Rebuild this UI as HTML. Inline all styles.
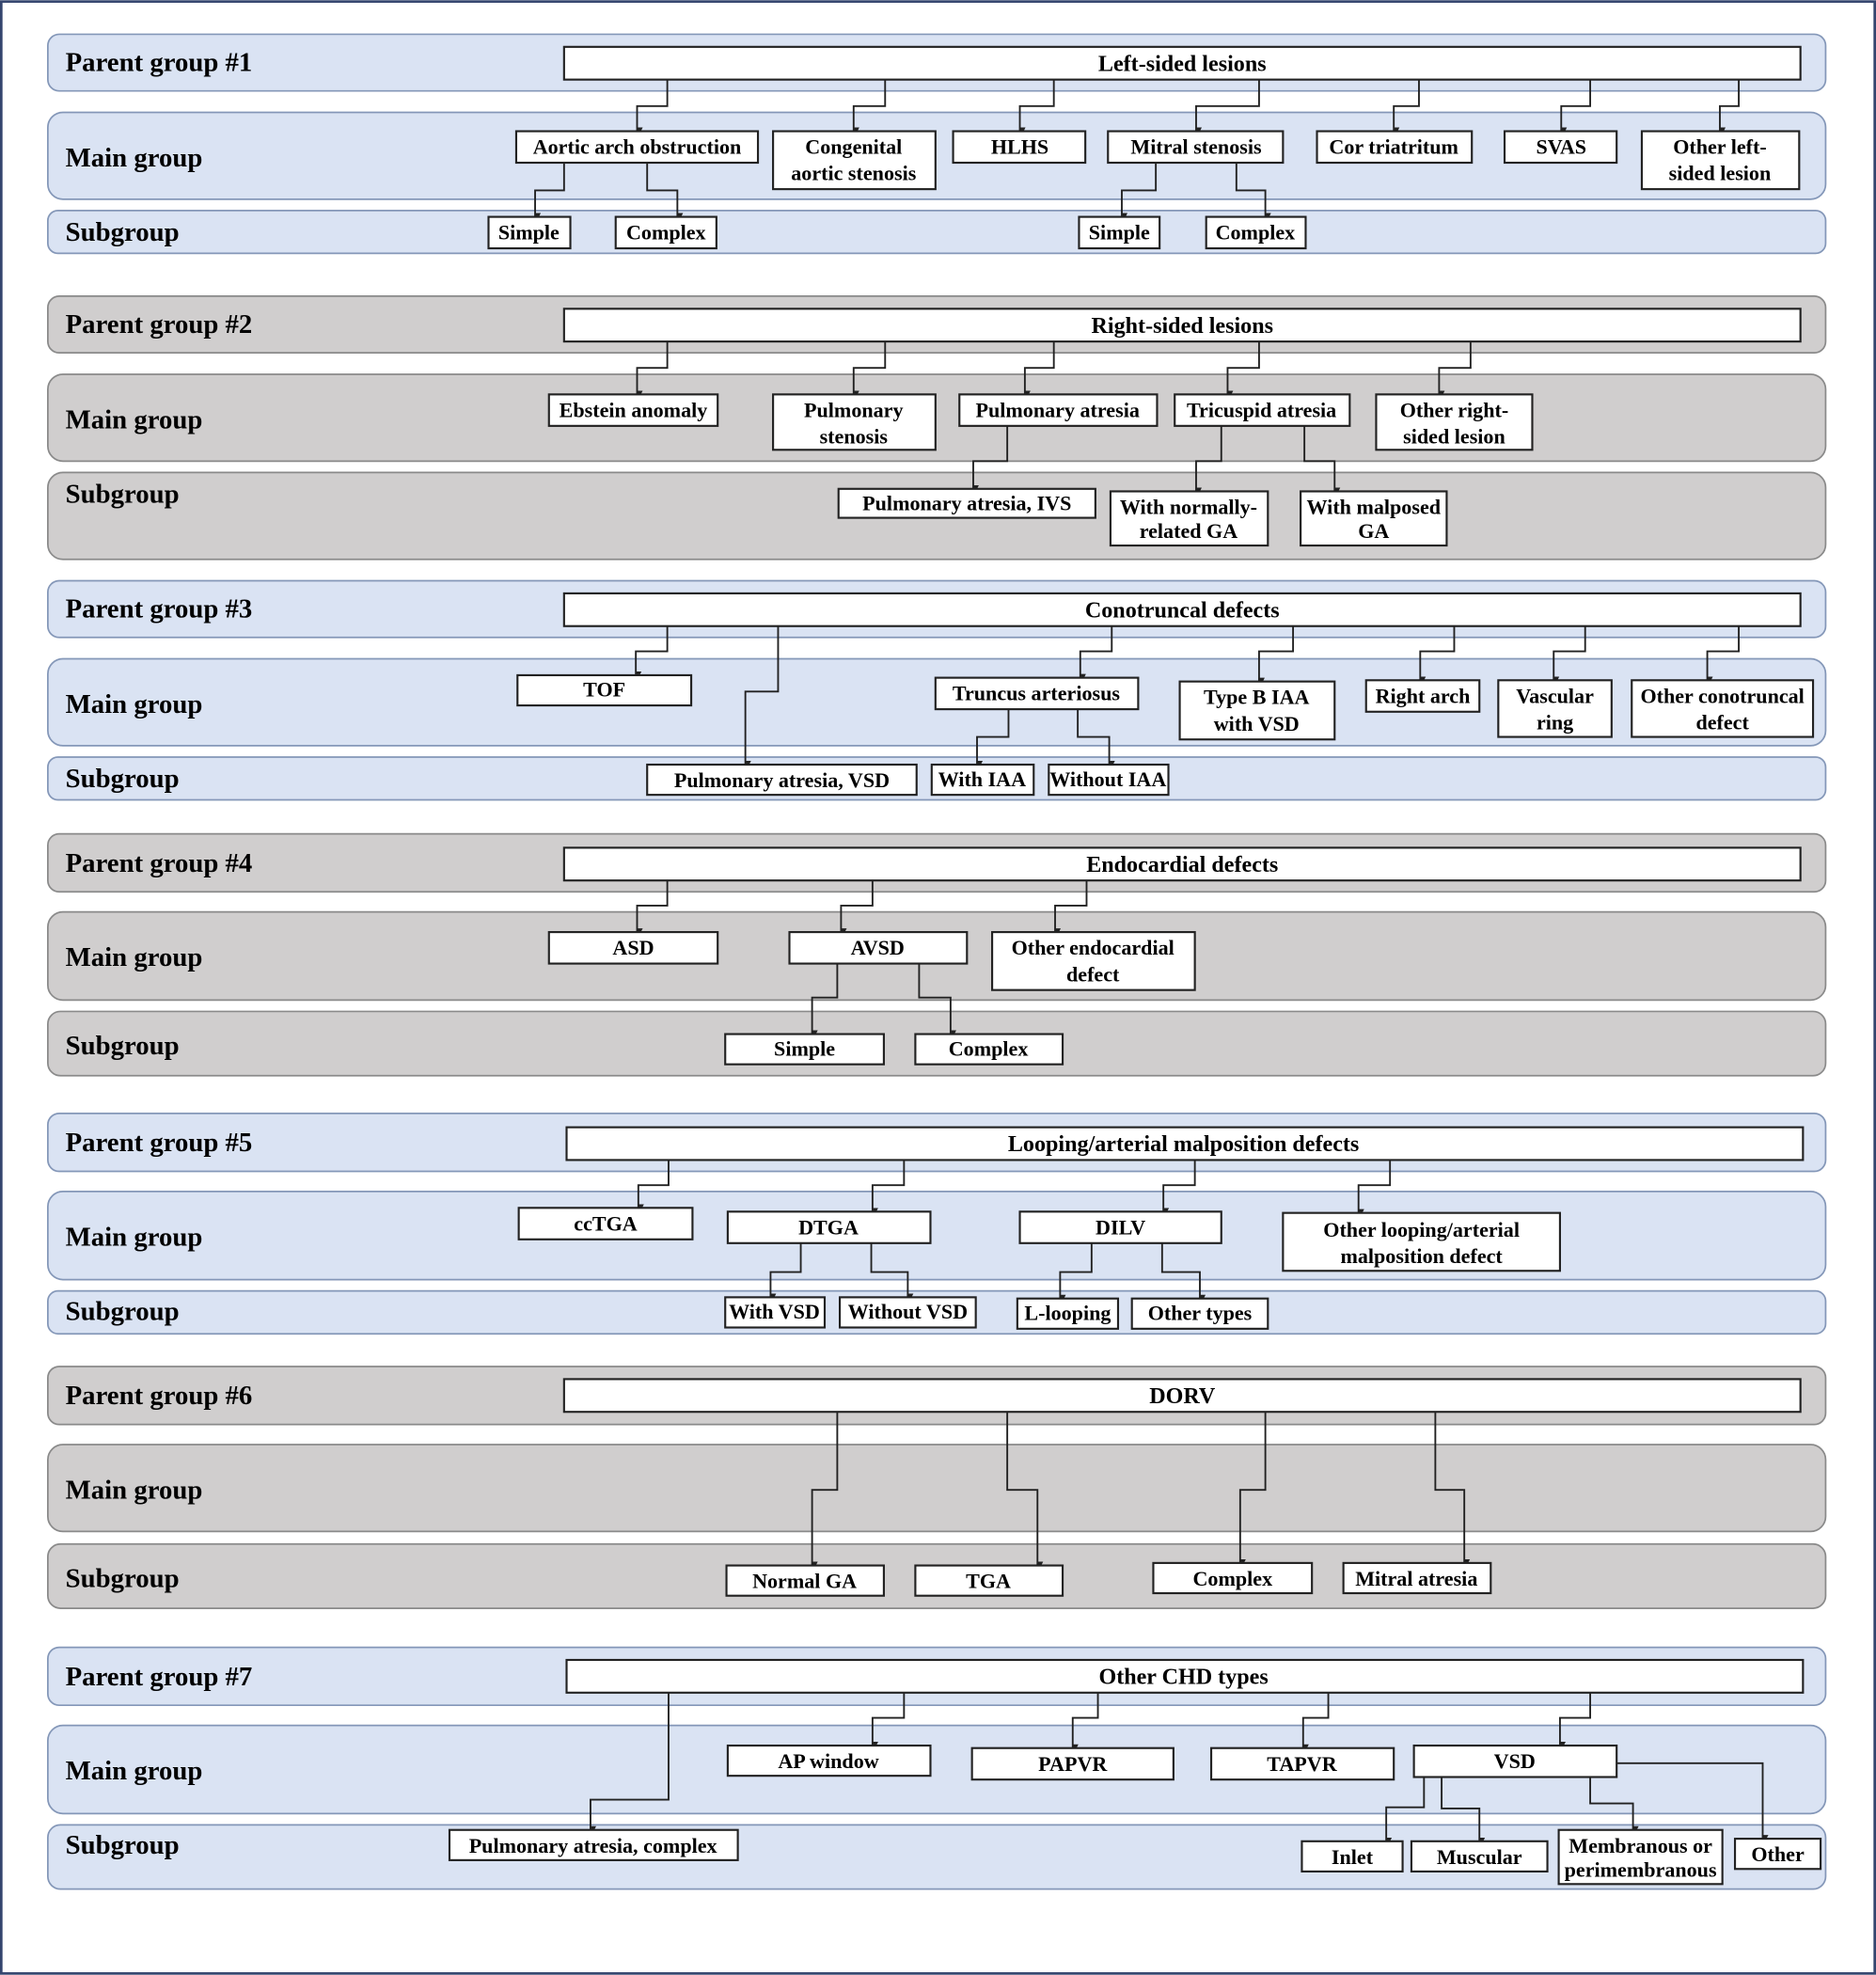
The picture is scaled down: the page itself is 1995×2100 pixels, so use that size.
<!DOCTYPE html>
<html><head><meta charset="utf-8"><style>
html,body{margin:0;padding:0;background:#fff}
svg{display:block}
text{font-family:"Liberation Serif",serif;font-weight:bold;fill:#000}
.bl{font-size:21.5px}
.bx{font-size:16.5px;text-anchor:middle}
.pb{font-size:18px}
.B{fill:#dae3f3;stroke:#8497b8;stroke-width:1.3}
.G{fill:#d0cece;stroke:#8a8a8a;stroke-width:1.3}
.r{fill:#fff;stroke:#222;stroke-width:1.6}
.c{fill:none;stroke:#222;stroke-width:1.4;marker-end:url(#a)}
</style></head><body>
<svg width="1995" height="2100" viewBox="0 0 1490 1568" xmlns="http://www.w3.org/2000/svg">
<defs><marker id="a" markerWidth="6" markerHeight="6" refX="3" refY="5" orient="auto-start-reverse" markerUnits="userSpaceOnUse"><path d="M0.5,0 L5.5,0 L3,5 z" fill="#222" transform="rotate(-90 3 3)"/></marker></defs>
<rect x="1" y="1" width="1488" height="1566" fill="#fff" stroke="#34456e" stroke-width="2"/>

<!-- Section 1 -->
<rect class="B" x="38" y="27" width="1412" height="45" rx="9"/>
<rect class="B" x="38" y="89" width="1412" height="69" rx="12"/>
<rect class="B" x="38" y="167" width="1412" height="34" rx="8"/>
<text class="bl" x="52" y="56">Parent group #1</text>
<text class="bl" x="52" y="132">Main group</text>
<text class="bl" x="52" y="191">Subgroup</text>
<rect class="r" x="448" y="37" width="982" height="26"/><text class="bx pb" x="939" y="56">Left-sided lesions</text>
<path class="c" d="M530 63V84H506V104"/><path class="c" d="M703 63V84H678V104"/><path class="c" d="M837 63V84H810V104"/><path class="c" d="M1000 63V84H950V104"/><path class="c" d="M1127 63V84H1107V104"/><path class="c" d="M1263 63V84H1240V104"/><path class="c" d="M1381 63V84H1366V104"/>
<rect class="r" x="410" y="104" width="192" height="25"/><text class="bx" x="506" y="122">Aortic arch obstruction</text>
<rect class="r" x="614" y="104" width="129" height="46"/><text class="bx" x="678" y="122">Congenital</text><text class="bx" x="678" y="143">aortic stenosis</text>
<rect class="r" x="757" y="104" width="105" height="25"/><text class="bx" x="810" y="122">HLHS</text>
<rect class="r" x="880" y="104" width="139" height="25"/><text class="bx" x="950" y="122">Mitral stenosis</text>
<rect class="r" x="1046" y="104" width="123" height="25"/><text class="bx" x="1107" y="122">Cor triatritum</text>
<rect class="r" x="1195" y="104" width="89" height="25"/><text class="bx" x="1240" y="122">SVAS</text>
<rect class="r" x="1304" y="104" width="125" height="46"/><text class="bx" x="1366" y="122">Other left-</text><text class="bx" x="1366" y="143">sided lesion</text>
<path class="c" d="M448 129V151H425V172"/><path class="c" d="M514 129V151H538V172"/><path class="c" d="M918 129V151H891V172"/><path class="c" d="M982 129V151H1005V172"/>
<rect class="r" x="388" y="172" width="65" height="25"/><text class="bx" x="420" y="190">Simple</text>
<rect class="r" x="489" y="172" width="80" height="25"/><text class="bx" x="529" y="190">Complex</text>
<rect class="r" x="857" y="172" width="64" height="25"/><text class="bx" x="889" y="190">Simple</text>
<rect class="r" x="958" y="172" width="79" height="25"/><text class="bx" x="997" y="190">Complex</text>

<!-- Section 2 -->
<rect class="G" x="38" y="235" width="1412" height="45" rx="9"/>
<rect class="G" x="38" y="297" width="1412" height="69" rx="12"/>
<rect class="G" x="38" y="375" width="1412" height="69" rx="12"/>
<text class="bl" x="52" y="264">Parent group #2</text>
<text class="bl" x="52" y="340">Main group</text>
<text class="bl" x="52" y="399">Subgroup</text>
<rect class="r" x="448" y="245" width="982" height="26"/><text class="bx pb" x="939" y="264">Right-sided lesions</text>
<path class="c" d="M530 271V292H506V313"/><path class="c" d="M703 271V292H678V313"/><path class="c" d="M837 271V292H814V313"/><path class="c" d="M1000 271V292H975V313"/><path class="c" d="M1168 271V292H1143V313"/>
<rect class="r" x="436" y="313" width="134" height="25"/><text class="bx" x="503" y="331">Ebstein anomaly</text>
<rect class="r" x="614" y="313" width="129" height="44"/><text class="bx" x="678" y="331">Pulmonary</text><text class="bx" x="678" y="352">stenosis</text>
<rect class="r" x="762" y="313" width="157" height="25"/><text class="bx" x="840" y="331">Pulmonary atresia</text>
<rect class="r" x="933" y="313" width="139" height="25"/><text class="bx" x="1002" y="331">Tricuspid atresia</text>
<rect class="r" x="1093" y="313" width="124" height="44"/><text class="bx" x="1155" y="331">Other right-</text><text class="bx" x="1155" y="352">sided lesion</text>
<path class="c" d="M800 338V366H773V388"/><path class="c" d="M970 338V366H950V390"/><path class="c" d="M1036 338V366H1060V390"/>
<rect class="r" x="666" y="388" width="204" height="23"/><text class="bx" x="768" y="405">Pulmonary atresia, IVS</text>
<rect class="r" x="882" y="390" width="125" height="43"/><text class="bx" x="944" y="408">With normally-</text><text class="bx" x="944" y="427">related GA</text>
<rect class="r" x="1033" y="390" width="116" height="43"/><text class="bx" x="1091" y="408">With malposed</text><text class="bx" x="1091" y="427">GA</text>

<!-- Section 3 -->
<rect class="B" x="38" y="461" width="1412" height="45" rx="9"/>
<rect class="B" x="38" y="523" width="1412" height="69" rx="12"/>
<rect class="B" x="38" y="601" width="1412" height="34" rx="8"/>
<text class="bl" x="52" y="490">Parent group #3</text>
<text class="bl" x="52" y="566">Main group</text>
<text class="bl" x="52" y="625">Subgroup</text>
<rect class="r" x="448" y="471" width="982" height="26"/><text class="bx pb" x="939" y="490">Conotruncal defects</text>
<path class="c" d="M530 497V517H505V536"/><path class="c" d="M883 497V517H858V538"/><path class="c" d="M1027 497V517H1000V541"/><path class="c" d="M1155 497V517H1128V540"/><path class="c" d="M1259 497V517H1234V540"/><path class="c" d="M1381 497V517H1356V540"/>
<path class="c" d="M618 497V549H592V607"/>
<rect class="r" x="411" y="536" width="138" height="24"/><text class="bx" x="480" y="553">TOF</text>
<rect class="r" x="743" y="538" width="161" height="25"/><text class="bx" x="823" y="556">Truncus arteriosus</text>
<rect class="r" x="937" y="541" width="123" height="46"/><text class="bx" x="998" y="559">Type B IAA</text><text class="bx" x="998" y="580">with VSD</text>
<rect class="r" x="1085" y="540" width="90" height="25"/><text class="bx" x="1130" y="558">Right arch</text>
<rect class="r" x="1190" y="540" width="90" height="45"/><text class="bx" x="1235" y="558">Vascular</text><text class="bx" x="1235" y="579">ring</text>
<rect class="r" x="1296" y="540" width="144" height="45"/><text class="bx" x="1368" y="558">Other conotruncal</text><text class="bx" x="1368" y="579">defect</text>
<path class="c" d="M801 563V585H776V607"/><path class="c" d="M856 563V585H881V607"/>
<rect class="r" x="514" y="607" width="214" height="24"/><text class="bx" x="621" y="625">Pulmonary atresia, VSD</text>
<rect class="r" x="740" y="607" width="81" height="24"/><text class="bx" x="780" y="624">With IAA</text>
<rect class="r" x="833" y="607" width="95" height="24"/><text class="bx" x="880" y="624">Without IAA</text>

<!-- Section 4 -->
<rect class="G" x="38" y="662" width="1412" height="46" rx="9"/>
<rect class="G" x="38" y="724" width="1412" height="70" rx="12"/>
<rect class="G" x="38" y="803" width="1412" height="51" rx="10"/>
<text class="bl" x="52" y="692">Parent group #4</text>
<text class="bl" x="52" y="767">Main group</text>
<text class="bl" x="52" y="837">Subgroup</text>
<rect class="r" x="448" y="673" width="982" height="26"/><text class="bx pb" x="939" y="692">Endocardial defects</text>
<path class="c" d="M530 699V719H506V740"/><path class="c" d="M693 699V719H668V740"/><path class="c" d="M863 699V719H838V740"/>
<rect class="r" x="436" y="740" width="134" height="25"/><text class="bx" x="503" y="758">ASD</text>
<rect class="r" x="627" y="740" width="141" height="25"/><text class="bx" x="697" y="758">AVSD</text>
<rect class="r" x="788" y="740" width="161" height="46"/><text class="bx" x="868" y="758">Other endocardial</text><text class="bx" x="868" y="779">defect</text>
<path class="c" d="M665 765V792H645V821"/><path class="c" d="M730 765V792H755V821"/>
<rect class="r" x="576" y="821" width="126" height="24"/><text class="bx" x="639" y="838">Simple</text>
<rect class="r" x="727" y="821" width="117" height="24"/><text class="bx" x="785" y="838">Complex</text>

<!-- Section 5 -->
<rect class="B" x="38" y="884" width="1412" height="46" rx="9"/>
<rect class="B" x="38" y="946" width="1412" height="70" rx="12"/>
<rect class="B" x="38" y="1025" width="1412" height="34" rx="8"/>
<text class="bl" x="52" y="914">Parent group #5</text>
<text class="bl" x="52" y="989">Main group</text>
<text class="bl" x="52" y="1048">Subgroup</text>
<rect class="r" x="450" y="895" width="982" height="26"/><text class="bx pb" x="940" y="914">Looping/arterial malposition defects</text>
<path class="c" d="M531 921V941H507V959"/><path class="c" d="M718 921V941H693V962"/><path class="c" d="M949 921V941H924V962"/><path class="c" d="M1104 921V941H1079V963"/>
<rect class="r" x="412" y="959" width="138" height="25"/><text class="bx" x="481" y="977">ccTGA</text>
<rect class="r" x="578" y="962" width="161" height="25"/><text class="bx" x="658" y="980">DTGA</text>
<rect class="r" x="810" y="962" width="160" height="25"/><text class="bx" x="890" y="980">DILV</text>
<rect class="r" x="1019" y="963" width="220" height="46"/><text class="bx" x="1129" y="982">Other looping/arterial</text><text class="bx" x="1129" y="1003">malposition defect</text>
<path class="c" d="M636 987V1010H612V1030"/><path class="c" d="M692 987V1010H721V1030"/><path class="c" d="M867 987V1010H842V1031"/><path class="c" d="M923 987V1010H953V1031"/>
<rect class="r" x="576" y="1030" width="79" height="24"/><text class="bx" x="615" y="1047">With VSD</text>
<rect class="r" x="667" y="1030" width="108" height="24"/><text class="bx" x="721" y="1047">Without VSD</text>
<rect class="r" x="808" y="1031" width="80" height="24"/><text class="bx" x="848" y="1048">L-looping</text>
<rect class="r" x="899" y="1031" width="108" height="24"/><text class="bx" x="953" y="1048">Other types</text>

<!-- Section 6 -->
<rect class="G" x="38" y="1085" width="1412" height="46" rx="9"/>
<rect class="G" x="38" y="1147" width="1412" height="69" rx="12"/>
<rect class="G" x="38" y="1226" width="1412" height="51" rx="10"/>
<text class="bl" x="52" y="1115">Parent group #6</text>
<text class="bl" x="52" y="1190">Main group</text>
<text class="bl" x="52" y="1260">Subgroup</text>
<rect class="r" x="448" y="1095" width="982" height="26"/><text class="bx pb" x="939" y="1114">DORV</text>
<path class="c" d="M665 1121V1183H645V1243"/><path class="c" d="M800 1121V1183H824V1243"/><path class="c" d="M1005 1121V1183H985V1241"/><path class="c" d="M1140 1121V1183H1163V1241"/>
<rect class="r" x="577" y="1243" width="125" height="24"/><text class="bx" x="639" y="1261">Normal GA</text>
<rect class="r" x="727" y="1243" width="117" height="24"/><text class="bx" x="785" y="1261">TGA</text>
<rect class="r" x="916" y="1241" width="126" height="24"/><text class="bx" x="979" y="1259">Complex</text>
<rect class="r" x="1067" y="1241" width="117" height="24"/><text class="bx" x="1125" y="1259">Mitral atresia</text>

<!-- Section 7 -->
<rect class="B" x="38" y="1308" width="1412" height="46" rx="9"/>
<rect class="B" x="38" y="1370" width="1412" height="70" rx="12"/>
<rect class="B" x="38" y="1449" width="1412" height="51" rx="10"/>
<text class="bl" x="52" y="1338">Parent group #7</text>
<text class="bl" x="52" y="1413">Main group</text>
<text class="bl" x="52" y="1472">Subgroup</text>
<rect class="r" x="450" y="1318" width="982" height="26"/><text class="bx pb" x="940" y="1337">Other CHD types</text>
<path class="c" d="M718 1344V1364H693V1386"/><path class="c" d="M872 1344V1364H852V1388"/><path class="c" d="M1055 1344V1364H1035V1388"/><path class="c" d="M1263 1344V1364H1239V1386"/>
<path class="c" d="M531 1344V1429H469V1453"/>
<rect class="r" x="578" y="1386" width="161" height="24"/><text class="bx" x="658" y="1404">AP window</text>
<rect class="r" x="772" y="1388" width="160" height="25"/><text class="bx" x="852" y="1406">PAPVR</text>
<rect class="r" x="962" y="1388" width="145" height="25"/><text class="bx" x="1034" y="1406">TAPVR</text>
<rect class="r" x="1123" y="1386" width="161" height="25"/><text class="bx" x="1203" y="1404">VSD</text>
<path class="c" d="M1131 1411V1435H1101V1462"/><path class="c" d="M1145 1411V1436H1175V1462"/><path class="c" d="M1263 1411V1432H1297V1453"/><path class="c" d="M1284 1400H1400V1460"/>
<rect class="r" x="357" y="1453" width="229" height="24"/><text class="bx" x="471" y="1471">Pulmonary atresia, complex</text>
<rect class="r" x="1034" y="1462" width="80" height="24"/><text class="bx" x="1074" y="1480">Inlet</text>
<rect class="r" x="1121" y="1462" width="108" height="24"/><text class="bx" x="1175" y="1480">Muscular</text>
<rect class="r" x="1238" y="1453" width="130" height="43"/><text class="bx" x="1303" y="1471">Membranous or</text><text class="bx" x="1303" y="1490">perimembranous</text>
<rect class="r" x="1378" y="1460" width="68" height="24"/><text class="bx" x="1412" y="1478">Other</text>
</svg>
</body></html>
